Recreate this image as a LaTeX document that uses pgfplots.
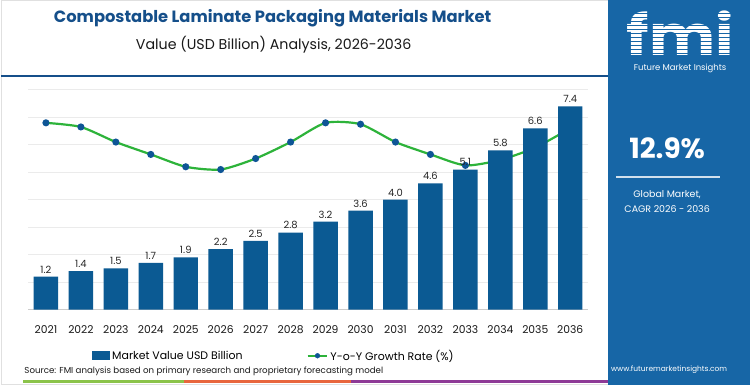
\documentclass[border=0pt]{standalone}
\usepackage{pgfplots}
\pgfplotsset{compat=1.18}
\usepackage{fontspec}
\setmainfont{Poppins}
\definecolor{barblue}{HTML}{0B5A93}
\definecolor{titleblue}{HTML}{154F8A}
\definecolor{panelblue}{HTML}{1766A6}
\definecolor{lgreen}{HTML}{2DB33A}
\definecolor{mblue}{HTML}{0E5596}
\definecolor{gridgray}{HTML}{EBEBEB}
\definecolor{sgreen}{HTML}{8BC34A}
\definecolor{sorange}{HTML}{E8663D}
\definecolor{spurple}{HTML}{8E3A96}
\pgfplotstableread{
x growth
0 13.6
1 13.3
2 12.2
3 11.3
4 10.4
5 10.2
6 11.0
7 12.2
8 13.6
9 13.5
10 12.2
11 11.3
12 10.5
13 10.9
14 11.8
15 13.2
}\growthtable
\pgfplotstableread{
x value
0 1.2
1 1.4
2 1.5
3 1.7
4 1.9
5 2.2
6 2.5
7 2.8
8 3.2
9 3.6
10 4.0
11 4.6
12 5.1
13 5.8
14 6.6
15 7.4
}\valuetable
\begin{document}
\begin{tikzpicture}
\fill[white] (0bp,0bp) rectangle (750bp,386bp);
\draw[black!12, line width=1bp] (0.5bp,0.5bp) rectangle (749.5bp,385.5bp);
% titles
\node[font=\bfseries\fontsize{16.4}{20}\selectfont, text=titleblue] at (272bp,368bp) {Compostable Laminate Packaging Materials Market};
\node[font=\fontsize{14.3}{17}\selectfont, text=black!90] at (273bp,341bp) {Value (USD Billion) Analysis, 2026-2036};
\draw[titleblue, line width=2bp] (0bp,310bp) -- (608bp,310bp);
% growth line + grid
\begin{axis}[at={(27.5bp,76bp)}, anchor=south west, scale only axis,
  width=560bp, height=225.5bp, xmin=-0.5, xmax=15.5, ymin=0, ymax=16.4,
  axis line style={draw=none}, xtick=\empty, ytick={2,4,...,16}, yticklabels={},
  major tick length=0pt, ymajorgrids, major grid style={gridgray, line width=0.8bp}, clip=false]
\addplot[lgreen, line width=2.2bp, smooth, tension=0.4, mark=*, mark size=2.4bp,
  mark options={draw=mblue, fill=mblue}] table[x=x, y=growth] {\growthtable};
\end{axis}
% bars
\begin{axis}[at={(27.5bp,76bp)}, anchor=south west, scale only axis,
  width=560bp, height=225.5bp, xmin=-0.5, xmax=15.5, ymin=0, ymax=8.2,
  axis y line=none, axis x line*=bottom, x axis line style={draw=black!20, line width=0.8bp, -},
  /pgf/number format/assume math mode=true,
  xtick={0,...,15}, xticklabels={2021,2022,2023,2024,2025,2026,2027,2028,2029,2030,2031,2032,2033,2034,2035,2036},
  xtick style={draw=none},
  xticklabel style={font=\fontsize{10.8}{12}\selectfont, text=black!90, yshift=-8bp},
  extra x ticks={-0.5,0.5,...,15.5}, extra x tick labels={},
  extra x tick style={major tick length=5bp, tick align=outside, tick style={draw=black!20, line width=0.6bp}},
  ybar, bar width=0.7, clip=false,
  nodes near coords={\pgfmathprintnumber[fixed,fixed zerofill,precision=1,assume math mode=true]{\pgfplotspointmeta}},
  every node near coord/.append style={font=\fontsize{10}{11}\selectfont, text=black!85},
  legend style={at={(0.439,-0.205)}, anchor=center, draw=none, fill=none, legend columns=2,
    font=\fontsize{11}{13}\selectfont, /tikz/every even column/.append style={column sep=62bp},
    legend cell align=left}]
\addplot[fill=barblue, draw=none,
  legend image code/.code={\fill[barblue] (0bp,-4.5bp) rectangle (18bp,4.5bp);}]
  table[x=x, y=value] {\valuetable};
\addlegendentry{Market Value USD Billion}
\addlegendimage{legend image code/.code={\draw[lgreen, line width=2bp] (0bp,0bp)--(20bp,0bp); \fill[mblue] (10bp,0bp) circle (2.4bp);}}
\addlegendentry{Y-o-Y Growth Rate (\%)}
\end{axis}
% source and stripes
\node[anchor=west, font=\fontsize{8.7}{10}\selectfont, text=black!90] at (20bp,14bp) {Source: FMI analysis based on primary research and proprietary forecasting model};
\fill[sgreen] (22bp,2.5bp) rectangle (183bp,5.5bp);
\fill[sorange] (183bp,2.5bp) rectangle (350bp,5.5bp);
\fill[spurple] (350bp,2.5bp) rectangle (608bp,5.5bp);
% right panel
\fill[panelblue] (608bp,0bp) rectangle (750bp,386bp);
\node[font=\bfseries\fontsize{56}{58}\selectfont, text=white, anchor=base, inner sep=0pt, text depth=0pt, xscale=1.12] at (680bp,330bp) {fmi};
\foreach \yy in {332,336,...,376} {\draw[panelblue, line width=1bp] (620bp,\yy bp) -- (742bp,\yy bp);}
\node[font=\fontsize{8.5}{10}\selectfont, text=white, inner sep=0.5bp] at (680bp,317bp) {Future Market Insights};
\node[font=\bfseries\fontsize{28}{32}\selectfont, text=white] at (667bp,238bp) {12.9\%};
\draw[white!80!panelblue, line width=1.5bp] (616bp,209bp) -- (720bp,209bp);
\node[font=\fontsize{9.5}{11}\selectfont, text=white] at (667bp,191bp) {Global Market,};
\node[font=\fontsize{9.5}{11}\selectfont, text=white] at (667bp,177bp) {CAGR 2026 - 2036};
\node[font=\fontsize{7.5}{9}\selectfont, text=white] at (669bp,16bp) {www.futuremarketinsights.com};
\end{tikzpicture}
\end{document}
